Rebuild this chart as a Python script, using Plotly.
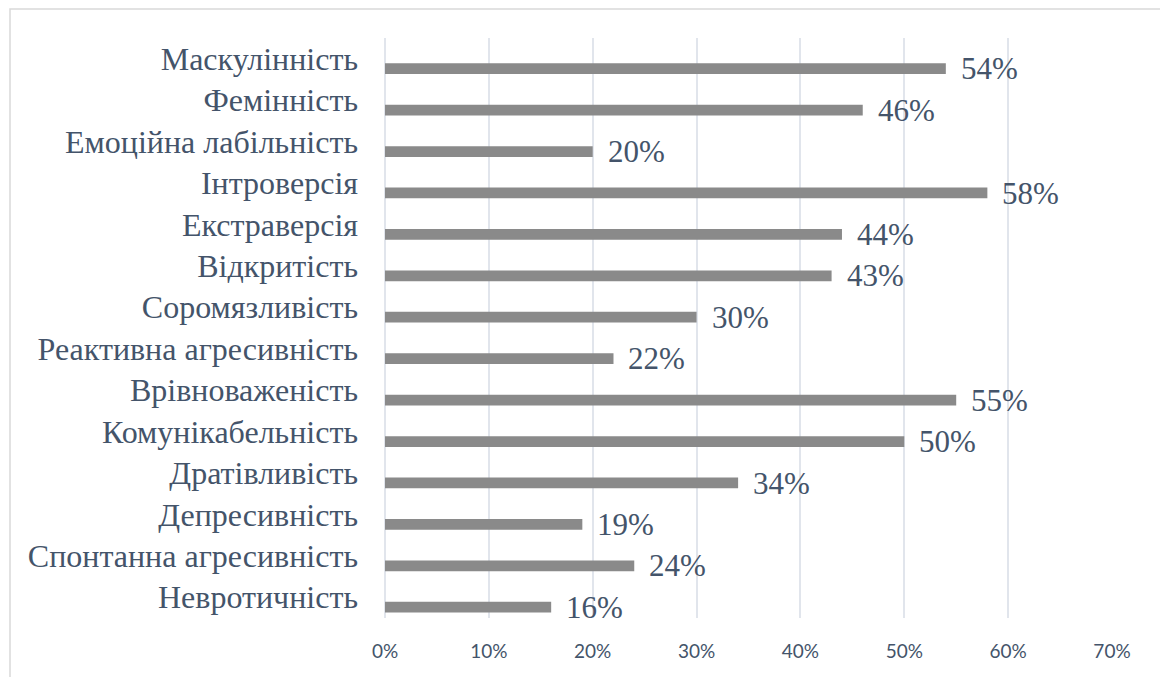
import plotly.graph_objects as go

categories = ["Невротичність", "Спонтанна агресивність", "Депресивність", "Дратівливість",
              "Комунікабельність", "Врівноваженість", "Реактивна агресивність", "Соромязливість",
              "Відкритість", "Екстраверсія", "Інтроверсія", "Емоційна лабільність",
              "Фемінність", "Маскулінність"]
values = [0.16, 0.24, 0.19, 0.34, 0.50, 0.55, 0.22, 0.30, 0.43, 0.44, 0.58, 0.20, 0.46, 0.54]
x_ticks = [0, 0.1, 0.2, 0.3, 0.4, 0.5, 0.6, 0.7]

TEXT = "#44546A"
W, H = 1160, 677
L, R, T, B = 385, 48, 38, 59

fig = go.Figure()
fig.add_trace(go.Bar(
    y=categories, x=values, orientation="h",
    width=0.26, offset=-0.37,
    marker=dict(color="#8a8a8a", line=dict(width=0)),
    hoverinfo="skip",
))

for c, v in zip(categories, values):
    fig.add_annotation(x=v, y=c, xref="x", yref="y", text=f"{round(v*100)}%",
                       showarrow=False, xanchor="left", yanchor="middle",
                       xshift=13, yshift=-10,
                       font=dict(family="Liberation Serif", size=31, color=TEXT))

pw = W - L - R
ph = H - T - B
fig.add_shape(type="rect", xref="paper", yref="paper",
              x0=(10 - L) / pw, x1=(W + 20 - L) / pw,
              y0=-(H + 20 - T - ph) / ph, y1=(H - B - 9) / ph,
              line=dict(color="#d9d9d9", width=1.5), fillcolor="rgba(0,0,0,0)", layer="below")

fig.update_layout(
    width=W, height=H,
    margin=dict(l=L, r=R, t=T, b=B),
    paper_bgcolor="white", plot_bgcolor="white",
    showlegend=False,
    xaxis=dict(range=[0, 0.7], tickvals=x_ticks, tickformat=".0%",
               showgrid=True, gridcolor="#e1e5ec", gridwidth=1.5,
               zeroline=True, zerolinecolor="#e1e5ec", zerolinewidth=1.5,
               showline=False, ticks="", ticklabelstandoff=20,
               tickfont=dict(family="Lato", size=19, color=TEXT), fixedrange=True),
    yaxis=dict(type="category", categoryorder="array", categoryarray=categories,
               range=[-0.5, 13.5], showgrid=False, zeroline=False, showline=False,
               ticks="", ticklabelstandoff=26,
               tickfont=dict(family="Liberation Serif", size=32, color=TEXT), fixedrange=True),
)

fig.write_html("out.html", config={"displayModeBar": False},
               post_script="document.body.style.margin='0';document.body.style.overflow='hidden';")
